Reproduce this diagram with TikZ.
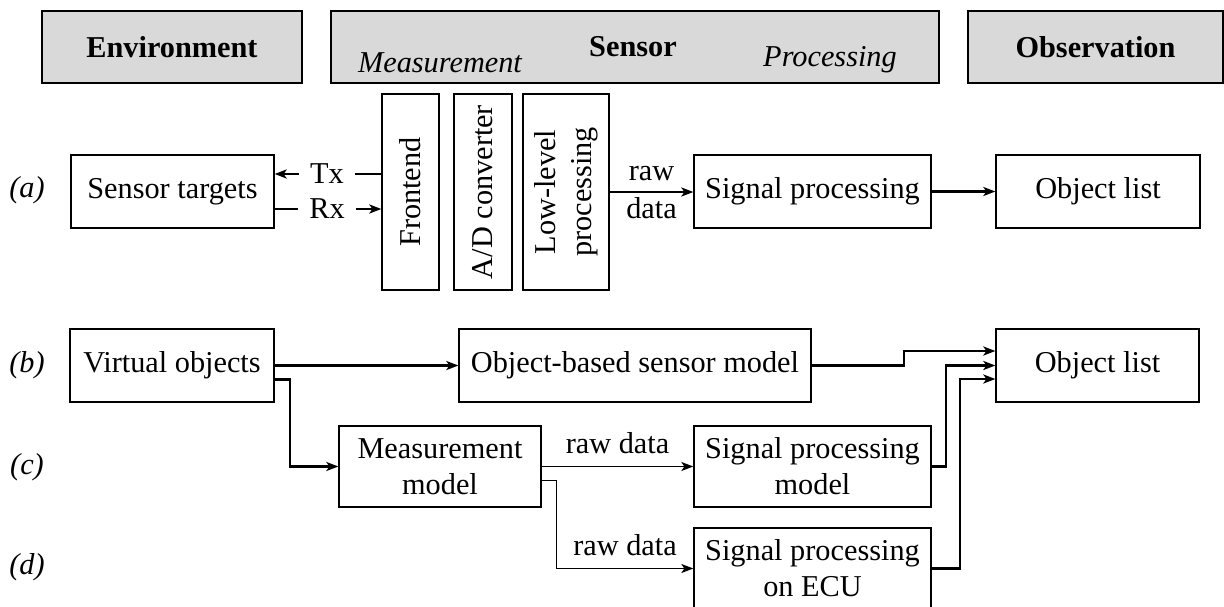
\documentclass[tikz,border=0pt]{standalone}
\usepackage{fontspec}
\setmainfont{Liberation Serif}
\usepackage{tikz}
\usetikzlibrary{arrows.meta, positioning, calc}

\begin{document}
\begin{tikzpicture}[
    x=1pt, y=-1pt,
    font=\fontsize{30.3}{36}\selectfont,
    block/.style={rectangle, draw, line width=1.3pt, minimum height=73pt, align=center, inner sep=0pt},
    vblock/.style={block, minimum width=196pt, rotate=90},
    head/.style={rectangle, draw, line width=1.3pt, fill=gray!30, minimum height=72pt, inner sep=0pt},
    row/.style={font=\fontsize{30.3}{36}\selectfont\itshape},
    link/.style={-{Stealth[length=12pt,width=9pt,inset=3pt]}, line width=2.2pt},
    thinlink/.style={-{Stealth[length=12pt,width=9pt,inset=3pt]}, line width=1.3pt},
]
\useasboundingbox (0,0) rectangle (1224,606);

% Header
\node[head, minimum width=260pt] (env) at (172,47) {\textbf{Environment}};
\node[head, minimum width=608pt] (sensor) at (635,47) {};
\node[font=\fontsize{30.3}{36}\selectfont\bfseries] (sensorlbl) at (633,47) {Sensor};
\node[row] (measlbl) at (440,63) {Measurement};
\node[row] (proclbl) at (830,60) {Processing};
\node[head, minimum width=255pt] (obs) at (1095.5,47) {\textbf{Observation}};

% (a) real sensor
\node[row] (la) at (27,190) {(a)};
\node[block, minimum width=203pt] (targets) at (172.5,191.5) {Sensor targets};
\node[vblock, minimum height=57pt] (front) at (410.5,192) {Frontend};
\node[vblock, minimum height=58pt] (adc) at (483,192) {A/D converter};
\node[vblock, minimum height=86pt] (low) at (566,192) {Low-level\\processing};
\node[block, minimum width=237pt] (sigproc) at (812.5,191.5) {Signal processing};
\node[block, minimum width=204pt] (obja) at (1098,191.5) {Object list};

% rotated blocks: north is their left side, south their right side
\node[inner xsep=11pt, inner ysep=0pt] (tx) at (327,174) {Tx};
\node[inner xsep=11pt, inner ysep=0pt] (rx) at (327,209) {Rx};
\draw[link] (tx.west) -- (targets.east |- tx);
\draw[line width=2.2pt] (tx.east) -- (front.north |- tx);
\draw[line width=2.2pt] (targets.east |- rx) -- (rx.west);
\draw[link] (rx.east) -- (front.north |- rx);

\draw[link] (low.south) -- (sigproc.west |- low.south)
    node[midway, anchor=base, yshift=12pt] {raw}
    node[midway, anchor=base, yshift=-26pt] {data};
\draw[link] (sigproc) -- (obja);

% (b)-(d) models
\node[row] (lb) at (27,365) {(b)};
\node[block, minimum width=204pt] (virt) at (172,365.5) {Virtual objects};
\node[block, minimum width=352pt] (objmodel) at (635,365.5) {Object-based sensor model};
\node[block, minimum width=203pt] (objb) at (1097.5,365.5) {Object list};

\node[row] (lc) at (27,467) {(c)};
\node[block, minimum width=202pt, minimum height=81pt] (measmodel) at (440,466.5) {Measurement\\model};
\node[block, minimum width=237pt, minimum height=81pt] (spmodel) at (812.5,466.5) {Signal processing\\model};

\node[row] (ld) at (27,567) {(d)};
\node[block, minimum width=237pt, minimum height=81pt] (specu) at (812.5,568.5) {Signal processing\\on ECU};

% Arrows
\draw[link] (virt) -- (objmodel);
\draw[link] ($(virt.east)+(0,14)$) -- ++(15,0) |- (measmodel.west);
\draw[thinlink] (measmodel.east) -- (spmodel.west)
    node[midway, anchor=base, yshift=13pt] {raw data};
\draw[thinlink] ($(measmodel.east)+(0,14)$) -- ++(15,0) |- (specu.west)
    node[pos=0.75, anchor=base, yshift=13pt] {raw data};

\draw[link] (objmodel.east) -- ++(92,0) |- ($(objb.west)+(0,-14.5)$);
\draw[link] (spmodel.east) -- ++(14,0) |- (objb.west);
\draw[link] (specu.east) -- ++(28,0) |- ($(objb.west)+(0,13.5)$);

\end{tikzpicture}
\end{document}
